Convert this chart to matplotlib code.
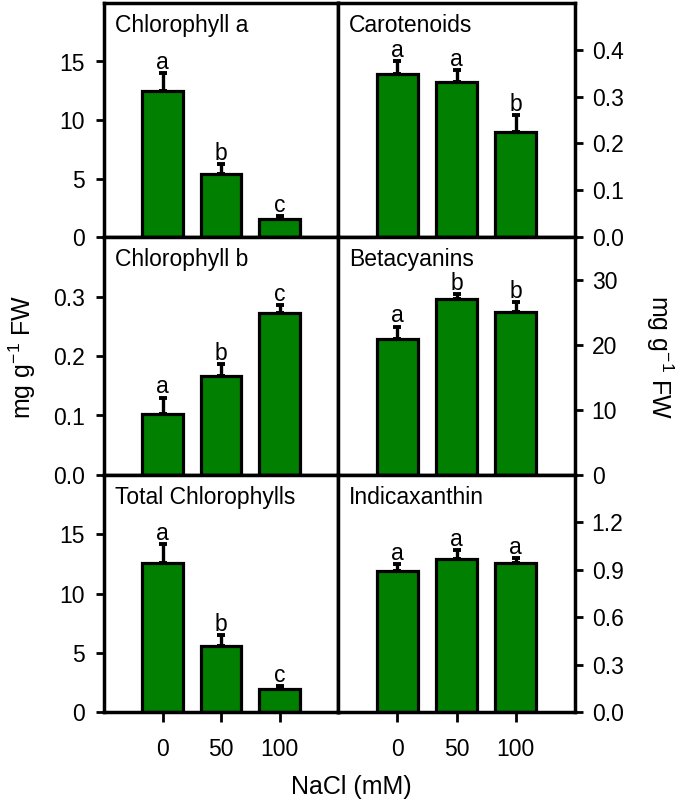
import numpy as np
import matplotlib
matplotlib.use('Agg')
import matplotlib.pyplot as plt

plt.rcParams['font.family'] = ['Liberation Sans', 'DejaVu Sans']
plt.rcParams['mathtext.default'] = 'regular'

nacl = ['0', '50', '100']

# values (mean, upper error)
chl_a = [12.47, 5.37, 1.56]
chl_a_err = [1.57, 0.85, 0.25]
chl_a_let = ['a', 'b', 'c']

carot = [0.349, 0.332, 0.225]
carot_err = [0.027, 0.024, 0.036]
carot_let = ['a', 'a', 'b']

chl_b = [0.103, 0.166, 0.273]
chl_b_err = [0.027, 0.020, 0.012]
chl_b_let = ['a', 'b', 'c']

betac = [20.97, 27.1, 25.1]
betac_err = [1.85, 0.75, 1.55]
betac_let = ['a', 'b', 'b']

chl_tot = [12.59, 5.57, 1.95]
chl_tot_err = [1.55, 0.93, 0.25]
chl_tot_let = ['a', 'b', 'c']

indic = [0.892, 0.966, 0.945]
indic_err = [0.046, 0.061, 0.031]
indic_let = ['a', 'a', 'a']

green = '#007f00'
lw_frame = 2.5

fig = plt.figure(figsize=(6.85, 8.05), dpi=100)

# panel boxes in pixels
W = 685.0
H = 805.0
cols_x = [(104, 338), (338, 575)]
rows_y = [(3, 237), (237, 475), (475, 712)]

panels = [
    # row, col, title, vals, errs, letters, ylim top, yticks, ticklabels
    (0, 0, 'Chlorophyll a', chl_a, chl_a_err, chl_a_let, 20, [0, 5, 10, 15], ['0', '5', '10', '15']),
    (0, 1, 'Carotenoids', carot, carot_err, carot_let, 0.5, [0, 0.1, 0.2, 0.3, 0.4], ['0.0', '0.1', '0.2', '0.3', '0.4']),
    (1, 0, 'Chlorophyll b', chl_b, chl_b_err, chl_b_let, 0.4, [0, 0.1, 0.2, 0.3], ['0.0', '0.1', '0.2', '0.3']),
    (1, 1, 'Betacyanins', betac, betac_err, betac_let, 36.6, [0, 10, 20, 30], ['0', '10', '20', '30']),
    (2, 0, 'Total Chlorophylls', chl_tot, chl_tot_err, chl_tot_let, 20, [0, 5, 10, 15], ['0', '5', '10', '15']),
    (2, 1, 'Indicaxanthin', indic, indic_err, indic_let, 1.5, [0, 0.3, 0.6, 0.9, 1.2], ['0.0', '0.3', '0.6', '0.9', '1.2']),
]

x = np.arange(1, 4)

for row, col, title, vals, errs, lets, ytop, yt, ytl in panels:
    x0, x1 = cols_x[col]
    y0, y1 = rows_y[row]
    ax = fig.add_axes([x0 / W, 1 - y1 / H, (x1 - x0) / W, (y1 - y0) / H])
    ax.bar(x, vals, width=0.7, color=green, edgecolor='black', linewidth=2.3, zorder=2)
    ax.errorbar(x, vals, yerr=[np.zeros(3), errs], fmt='none', ecolor='black',
                elinewidth=2.4, capsize=3, capthick=2.8, zorder=1)
    for xi, v, e, l in zip(x, vals, errs, lets):
        ax.annotate(l, (xi, v + e), xytext=(0, 3), textcoords='offset points',
                    ha='center', va='baseline', fontsize=16.5)
    ax.set_xlim(0, 4)
    ax.set_ylim(0, ytop)
    ax.set_yticks(yt)
    ax.set_yticklabels(ytl)
    ax.text(0.045, 0.955, title, transform=ax.transAxes, ha='left', va='top', fontsize=16.5)
    for s in ax.spines.values():
        s.set_linewidth(lw_frame)
    if col == 0:
        ax.tick_params(axis='y', left=True, right=False, labelleft=True, labelright=False,
                       direction='out', length=6, width=2, pad=8, labelsize=16.5)
    else:
        ax.tick_params(axis='y', left=False, right=True, labelleft=False, labelright=True,
                       direction='out', length=6, width=2, pad=6, labelsize=16.5)
    if row == 2:
        ax.set_xticks(x)
        ax.set_xticklabels(nacl)
        ax.tick_params(axis='x', direction='out', length=7, width=2, pad=12, labelsize=16.5)
    else:
        ax.set_xticks([])

fig.text(22 / W, 1 - 357 / H, 'mg g$^{-1}$ FW', rotation=90, ha='center', va='center', fontsize=18)
fig.text(660 / W, 1 - 357 / H, 'mg g$^{-1}$ FW', rotation=270, ha='center', va='center', fontsize=18)
fig.text(351 / W, 1 - 787 / H, 'NaCl (mM)', ha='center', va='center', fontsize=18)

fig.savefig('out.png', dpi=100)
